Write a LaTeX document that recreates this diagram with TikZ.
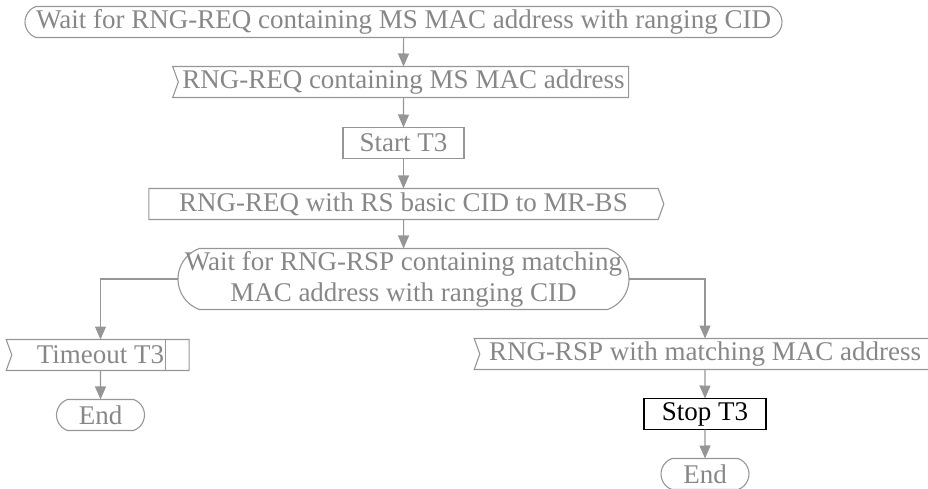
\documentclass[tikz,border=0pt]{standalone}
\usepackage{fontspec}
\setmainfont{Liberation Serif}
\usepackage{tikz}
\usetikzlibrary{shapes.misc,shapes.symbols,arrows.meta,positioning}
\definecolor{sdlgray}{RGB}{150,150,150}
\definecolor{sdltext}{RGB}{135,135,135}

\begin{document}
\begin{tikzpicture}[x=1pt,y=1pt,node distance=30pt,outer sep=0pt,inner xsep=2pt,inner ysep=1pt,line width=1.1pt]
        \tikzset{box/.style={draw=sdlgray,text=sdltext,align=center,minimum height=31pt,font=\fontsize{27}{31}\selectfont}}
        \tikzset{state/.style={box,shape=rounded rectangle,rounded rectangle arc length=140}}
        \tikzset{input/.style={box,shape=signal,signal from=west,signal to=nowhere,signal pointer angle=140}}
        \tikzset{output/.style={box,shape=signal,signal from=nowhere,signal to=east,signal pointer angle=140}}
        \tikzset{task/.style={box,shape=rectangle}}
        \tikzset{timer/.style={input,path picture={\draw[sdlgray] ([xshift=-24pt]path picture bounding box.north east) -- ([xshift=-24pt]path picture bounding box.south east);}}}
        \tikzset{flow/.style={draw=sdlgray,-{Triangle[length=13pt,width=11pt]}}}

        \useasboundingbox (0,0) rectangle (928,-489);
        \node [state,minimum width=757pt,inner xsep=0pt] (wait-req) at (403.5,-22) {Wait for RNG-REQ containing MS MAC address with ranging CID};
        \node [input,minimum width=456pt,below=29pt of wait-req] (req-ms) {RNG-REQ containing MS MAC address};
        \node [task,minimum width=121pt,below=of req-ms] (start-t3) {Start T3};
        \node [output,minimum width=515pt,below=of start-t3] (req-rs) {RNG-REQ with RS basic CID to MR-BS};
        \node [state,minimum width=455pt,minimum height=61pt,below=29pt of req-rs] (wait-rsp) {\makebox[409pt]{Wait for RNG-RSP containing matching}\\\makebox[409pt]{MAC address with ranging CID}};
        \node [timer,minimum width=183pt,below=of wait-rsp,xshift=-303pt] (timeout) {Timeout T3};
        \node [state,minimum width=92pt,below=29pt of timeout] (end-left) {End};
        \node [input,minimum width=456pt,below=29pt of wait-rsp,xshift=301.5pt] (rsp) {RNG-RSP with matching MAC address};
        \node [task,draw=black,text=black,minimum width=122pt,below=29pt of rsp] (stop-t3) {Stop T3};
        \node [state,minimum width=92pt,below=29pt of stop-t3] (end-right) {End};

        \draw [flow] (wait-req) -- (req-ms);
        \draw [flow] (req-ms) -- (start-t3);
        \draw [flow] (start-t3) -- (req-rs);
        \draw [flow] (req-rs) -- (wait-rsp);
        \draw [flow] (wait-rsp.west) -| (timeout.north);
        \draw [flow] (wait-rsp.east) -| (rsp.north);
        \draw [flow] (timeout) -- (end-left);
        \draw [flow] (rsp) -- (stop-t3);
        \draw [flow] (stop-t3) -- (end-right);
    \end{tikzpicture}
\end{document}
